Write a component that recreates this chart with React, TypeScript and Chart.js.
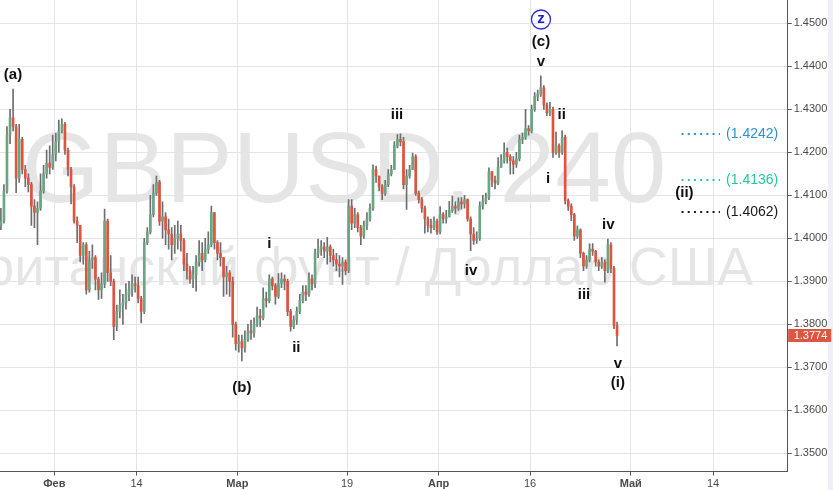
import { useEffect, useRef } from 'react';
import { Chart, registerables } from 'chart.js';

Chart.register(...registerables);

// 8h candles of GBPUSD, first one on Jan 24 (trading day -6 relative to Feb 1)
const FIRST_DAY = -6;
const BARS_PER_DAY = 3;
const FIRST_OPEN = 1.4030;

const CLOSES = [
  1.4040, 1.4110, 1.4240, 1.4280, 1.4260, 1.4140, 1.4230, 1.4160, 1.4140, 1.4125,
  1.4075, 1.4060, 1.4070, 1.4110, 1.4150, 1.4175, 1.4165, 1.4195, 1.4225, 1.4250,
  1.4265, 1.4205, 1.4160, 1.4120, 1.4040, 1.4030, 1.3960, 1.3985, 1.3880, 1.3950,
  1.3955, 1.3905, 1.3880, 1.3895, 1.4040, 1.3920, 1.3900, 1.3795, 1.3830, 1.3845,
  1.3850, 1.3870, 1.3880, 1.3895, 1.3890, 1.3860, 1.3830, 1.3990, 1.4015, 1.4055,
  1.4105, 1.4130, 1.4040, 1.4050, 1.4020, 1.4010, 1.3985, 1.4000, 1.4010, 1.3995,
  1.3940, 1.3925, 1.3905, 1.3915, 1.3945, 1.3965, 1.3950, 1.3975, 1.3985, 1.4060,
  1.3990, 1.3965, 1.3955, 1.3910, 1.3920, 1.3900, 1.3800, 1.3755, 1.3760, 1.3745,
  1.3765, 1.3785, 1.3780, 1.3800, 1.3820, 1.3815, 1.3860, 1.3855, 1.3905, 1.3890,
  1.3865, 1.3895, 1.3905, 1.3900, 1.3830, 1.3795, 1.3810, 1.3830, 1.3855, 1.3875,
  1.3870, 1.3905, 1.3895, 1.3965, 1.3975, 1.3980, 1.3970, 1.3980, 1.3960, 1.3950,
  1.3940, 1.3935, 1.3945, 1.3925, 1.4075, 1.4035, 1.4055, 1.4025, 1.4005, 1.4030,
  1.4045, 1.4070, 1.4160, 1.4145, 1.4120, 1.4105, 1.4125, 1.4150, 1.4160, 1.4215,
  1.4230, 1.4225, 1.4125, 1.4145, 1.4160, 1.4190, 1.4105, 1.4090, 1.4070, 1.4045,
  1.4030, 1.4025, 1.4040, 1.4015, 1.4055, 1.4045, 1.4050, 1.4065, 1.4075, 1.4070,
  1.4085, 1.4080, 1.4090, 1.4045, 1.4010, 1.3995, 1.4000, 1.4075, 1.4085, 1.4095,
  1.4155, 1.4135, 1.4128, 1.4165, 1.4180, 1.4200, 1.4190, 1.4180, 1.4172, 1.4185,
  1.4230, 1.4235, 1.4255, 1.4250, 1.4300, 1.4330, 1.4335, 1.4350, 1.4310, 1.4292,
  1.4300, 1.4200, 1.4215, 1.4200, 1.4235, 1.4088, 1.4075, 1.4055, 1.4005, 1.4020,
  1.3965, 1.3935, 1.3950, 1.3975, 1.3970, 1.3945, 1.3935, 1.3945, 1.3925, 1.3985,
  1.3930, 1.3797, 1.3774,
];

const HIGHS = [
  1.4070, 1.4125, 1.4260, 1.4300, 1.4347, 1.4265, 1.4265, 1.4235, 1.4170, 1.4150,
  1.4130, 1.4090, 1.4085, 1.4150, 1.4170, 1.4205, 1.4215, 1.4240, 1.4245, 1.4275,
  1.4278, 1.4270, 1.4210, 1.4165, 1.4125, 1.4050, 1.4030, 1.3990, 1.3990, 1.3970,
  1.3985, 1.3960, 1.3910, 1.3920, 1.4068, 1.4045, 1.3960, 1.3905, 1.3845, 1.3880,
  1.3870, 1.3895, 1.3900, 1.3915, 1.3910, 1.3910, 1.3865, 1.4000, 1.4025, 1.4100,
  1.4125, 1.4145, 1.4135, 1.4085, 1.4060, 1.4045, 1.4025, 1.4030, 1.4040, 1.4030,
  1.4000, 1.3965, 1.3935, 1.3935, 1.3960, 1.3995, 1.3990, 1.4000, 1.4015, 1.4075,
  1.4060, 1.3995, 1.3990, 1.3955, 1.3935, 1.3925, 1.3910, 1.3805, 1.3775, 1.3775,
  1.3785, 1.3800, 1.3810, 1.3815, 1.3840, 1.3835, 1.3885, 1.3875, 1.3915, 1.3910,
  1.3895, 1.3918, 1.3920, 1.3915, 1.3905, 1.3835, 1.3820, 1.3840, 1.3870, 1.3890,
  1.3890, 1.3920, 1.3915, 1.3975, 1.3998, 1.3995, 1.3990, 1.4002, 1.3985, 1.3975,
  1.3965, 1.3960, 1.3955, 1.3950, 1.4090, 1.4090, 1.4070, 1.4060, 1.4030, 1.4040,
  1.4060, 1.4080, 1.4171, 1.4168, 1.4145, 1.4125, 1.4135, 1.4160, 1.4170, 1.4225,
  1.4241, 1.4243, 1.4235, 1.4160, 1.4170, 1.4198, 1.4195, 1.4110, 1.4095, 1.4075,
  1.4050, 1.4045, 1.4050, 1.4045, 1.4074, 1.4060, 1.4065, 1.4086, 1.4098, 1.4085,
  1.4094, 1.4095, 1.4100, 1.4092, 1.4050, 1.4025, 1.4015, 1.4085, 1.4100, 1.4105,
  1.4164, 1.4155, 1.4145, 1.4188, 1.4195, 1.4222, 1.4210, 1.4195, 1.4190, 1.4200,
  1.4240, 1.4245, 1.4300, 1.4262, 1.4310, 1.4339, 1.4345, 1.4378, 1.4355, 1.4315,
  1.4316, 1.4305, 1.4247, 1.4220, 1.4250, 1.4240, 1.4092, 1.4080, 1.4058, 1.4029,
  1.4022, 1.3968, 1.3960, 1.3987, 1.3988, 1.3972, 1.3950, 1.3955, 1.3950, 1.3998,
  1.3990, 1.3935, 1.3805,
];

const LOWS = [
  1.4020, 1.4035, 1.4105, 1.4220, 1.4250, 1.4106, 1.4130, 1.4150, 1.4120, 1.4108,
  1.4030, 1.4025, 1.3985, 1.4065, 1.4105, 1.4140, 1.4150, 1.4160, 1.4180, 1.4200,
  1.4245, 1.4195, 1.4145, 1.4080, 1.4035, 1.3990, 1.3945, 1.3940, 1.3870, 1.3875,
  1.3930, 1.3880, 1.3858, 1.3860, 1.3885, 1.3900, 1.3890, 1.3764, 1.3785, 1.3815,
  1.3800, 1.3835, 1.3855, 1.3865, 1.3875, 1.3850, 1.3803, 1.3825, 1.3985, 1.4010,
  1.4050, 1.4100, 1.4030, 1.4000, 1.3985, 1.3975, 1.3950, 1.3965, 1.3975, 1.3970,
  1.3925, 1.3905, 1.3895, 1.3885, 1.3877, 1.3935, 1.3925, 1.3945, 1.3965, 1.3980,
  1.3975, 1.3950, 1.3935, 1.3865, 1.3870, 1.3865, 1.3770, 1.3740, 1.3735, 1.3715,
  1.3735, 1.3760, 1.3765, 1.3770, 1.3795, 1.3795, 1.3810, 1.3840, 1.3850, 1.3880,
  1.3847, 1.3860, 1.3885, 1.3880, 1.3820, 1.3784, 1.3790, 1.3800, 1.3825, 1.3850,
  1.3855, 1.3865, 1.3880, 1.3885, 1.3955, 1.3960, 1.3955, 1.3940, 1.3945, 1.3935,
  1.3925, 1.3910, 1.3893, 1.3915, 1.3920, 1.4020, 1.4025, 1.4015, 1.3985, 1.4000,
  1.4020, 1.4040, 1.4065, 1.4130, 1.4110, 1.4090, 1.4100, 1.4120, 1.4145, 1.4160,
  1.4210, 1.4215, 1.4115, 1.4067, 1.4140, 1.4160, 1.4100, 1.4082, 1.4060, 1.4012,
  1.4015, 1.4012, 1.4020, 1.4009, 1.4010, 1.4035, 1.4035, 1.4050, 1.4060, 1.4058,
  1.4065, 1.4068, 1.4070, 1.4040, 1.3971, 1.3986, 1.3988, 1.3995, 1.4068, 1.4080,
  1.4090, 1.4120, 1.4115, 1.4125, 1.4165, 1.4175, 1.4175, 1.4149, 1.4150, 1.4165,
  1.4180, 1.4220, 1.4230, 1.4240, 1.4245, 1.4295, 1.4320, 1.4330, 1.4300, 1.4285,
  1.4285, 1.4188, 1.4195, 1.4188, 1.4195, 1.4080, 1.4065, 1.4041, 1.3995, 1.4000,
  1.3955, 1.3925, 1.3930, 1.3945, 1.3960, 1.3935, 1.3925, 1.3930, 1.3898, 1.3920,
  1.3920, 1.3790, 1.3750,
];

// x axis: trading days relative to Feb 1
const TICK_DAYS = [0, 9, 20, 32, 42, 52, 63, 72];
const TICK_LABELS = ['Фев', '14', 'Мар', '19', 'Апр', '16', 'Май', '14'];
const PRICE_TICKS = [1.35, 1.36, 1.37, 1.38, 1.39, 1.40, 1.41, 1.42, 1.43, 1.44, 1.45];
const X_MIN = -5.93;
const X_MAX = 80.15;
const Y_MIN = 1.34577;
const Y_MAX = 1.45542;

// Elliott wave labels (day, price)
const WAVE_TEXTS = ['(a)', '(b)', 'i', 'ii', 'iii', 'iv', '(c)', 'v', 'ii', 'i', 'iv', 'iii', 'v', '(i)', '(ii)'];
const WAVE_DAYS = [-4.51, 20.51, 23.5, 26.45, 37.45, 45.54, 53.19, 53.19, 55.45, 53.97, 60.55, 57.89, 61.59, 61.59, 68.86];
const WAVE_PRICES = [1.43798, 1.36519, 1.39860, 1.37460, 1.42870, 1.39240, 1.44560, 1.44100, 1.42870, 1.41390, 1.40310, 1.38680, 1.37090, 1.36640, 1.41050];
const CIRCLE_TEXT = 'z';
const CIRCLE_DAY = 53.19;
const CIRCLE_PRICE = 1.45089;

// target levels on the right
const TARGET_PRICES = [1.4242, 1.4136, 1.4062];
const TARGET_TEXTS = ['(1.4242)', '(1.4136)', '(1.4062)'];
const TARGET_COLORS = ['#2a93d5', '#27c79b', '#1a1a1a'];
const TARGET_DAY_START = 68.55;
const TARGET_DAY_END = 72.75;
const TARGET_TEXT_DAY = 73.42;

const LAST_PRICE = 1.3774;

const UP = '#6ba583';
const DOWN = '#e0533d';
const WICK = '#6e6e70';
const FONT = '"Liberation Sans", Arial, sans-serif';

const overlayPlugin = {
  id: 'overlay',
  beforeDraw(chart: any) {
    const { ctx, chartArea } = chart;
    ctx.save();
    ctx.fillStyle = '#ffffff';
    ctx.fillRect(0, 0, chart.width, chart.height);
    ctx.beginPath();
    ctx.rect(chartArea.left, chartArea.top, chartArea.right - chartArea.left, chartArea.bottom - chartArea.top);
    ctx.clip();
    ctx.fillStyle = 'rgba(0,0,0,0.1)';
    ctx.textAlign = 'center';
    ctx.textBaseline = 'alphabetic';
    ctx.font = `100px ${FONT}`;
    ctx.fillText('GBPUSD, 240', 344, 202);
    ctx.font = `54px ${FONT}`;
    ctx.fillText('Британский фунт / Доллар США', 351, 285);
    ctx.restore();
  },
  afterDatasetsDraw(chart: any) {
    const { ctx } = chart;
    const xs = chart.scales.x;
    const ys = chart.scales.y;
    ctx.save();
    // target dotted levels
    TARGET_PRICES.forEach((p, k) => {
      const y = Math.round(ys.getPixelForValue(p)) + 0.0;
      ctx.strokeStyle = TARGET_COLORS[k];
      ctx.lineWidth = 2;
      ctx.setLineDash([2, 4.2]);
      ctx.beginPath();
      ctx.moveTo(xs.getPixelForValue(TARGET_DAY_START), y);
      ctx.lineTo(xs.getPixelForValue(TARGET_DAY_END), y);
      ctx.stroke();
      ctx.setLineDash([]);
      ctx.fillStyle = TARGET_COLORS[k];
      ctx.font = `14px ${FONT}`;
      ctx.textAlign = 'left';
      ctx.textBaseline = 'middle';
      ctx.fillText(TARGET_TEXTS[k], xs.getPixelForValue(TARGET_TEXT_DAY), y + 0.5);
    });
    // wave labels
    ctx.fillStyle = '#111111';
    ctx.font = `bold 15px ${FONT}`;
    ctx.textAlign = 'center';
    ctx.textBaseline = 'middle';
    WAVE_TEXTS.forEach((t, k) => {
      ctx.fillText(t, xs.getPixelForValue(WAVE_DAYS[k]), ys.getPixelForValue(WAVE_PRICES[k]));
    });
    // circled z
    const cx = xs.getPixelForValue(CIRCLE_DAY);
    const cy = ys.getPixelForValue(CIRCLE_PRICE);
    ctx.strokeStyle = '#2b2bd6';
    ctx.lineWidth = 1.3;
    ctx.beginPath();
    ctx.arc(cx, cy, 9.5, 0, Math.PI * 2);
    ctx.stroke();
    ctx.fillStyle = '#1e1ec8';
    ctx.font = `bold 15px ${FONT}`;
    ctx.fillText(CIRCLE_TEXT, cx, cy - 1);
    ctx.restore();
  },
  afterDraw(chart: any) {
    const { ctx, chartArea } = chart;
    const ys = chart.scales.y;
    ctx.save();
    ctx.fillStyle = '#edf0f4';
    ctx.fillRect(828, 0, chart.width - 828, chart.height);
    const y = ys.getPixelForValue(LAST_PRICE);
    ctx.fillStyle = '#dc5640';
    ctx.fillRect(chartArea.right + 0.5, y - 6.5, 43, 13);
    ctx.fillStyle = '#ffffff';
    ctx.font = `11px ${FONT}`;
    ctx.textAlign = 'left';
    ctx.textBaseline = 'middle';
    ctx.fillText(LAST_PRICE.toFixed(4), chartArea.right + 6, y + 0.5);
    ctx.restore();
  },
};

export default function App() {
  const canvasRef = useRef<HTMLCanvasElement | null>(null);

  useEffect(() => {
    const canvas = canvasRef.current;
    if (!canvas) return;
    const opens = [FIRST_OPEN, ...CLOSES.slice(0, -1)];
    const xOf = (i: number) => FIRST_DAY + (i + 0.5) / BARS_PER_DAY;
    const wickData = CLOSES.map((_, i) => ({ x: xOf(i), y: [LOWS[i], HIGHS[i]] }));
    const bodyData = CLOSES.map((c, i) => ({ x: xOf(i), y: [opens[i], c] }));
    const bodyColors = CLOSES.map((c, i) => (c >= opens[i] ? UP : DOWN));

    const chart = new Chart(canvas, {
      type: 'bar',
      data: {
        datasets: [
          {
            data: wickData as any,
            backgroundColor: WICK,
            barThickness: 1,
            grouped: false,
            order: 1,
            borderWidth: 0,
          } as any,
          {
            data: bodyData as any,
            backgroundColor: bodyColors,
            barThickness: 2,
            grouped: false,
            order: 0,
            borderWidth: 0,
          } as any,
        ],
      },
      options: {
        animation: false,
        responsive: false,
        devicePixelRatio: 1,
        layout: { padding: 0, autoPadding: false } as any,
        plugins: { legend: { display: false }, tooltip: { enabled: false } },
        scales: {
          x: {
            type: 'linear',
            min: X_MIN,
            max: X_MAX,
            offset: false,
            afterBuildTicks: (a: any) => {
              a.ticks = TICK_DAYS.map((v) => ({ value: v }));
            },
            afterFit: (a: any) => {
              a.height = 18.5;
              a.paddingLeft = 0;
              a.paddingRight = 0;
            },
            ticks: {
              autoSkip: false,
              maxRotation: 0,
              minRotation: 0,
              padding: 2,
              color: '#4a4a4a',
              font: (c: any) => ({
                size: 11,
                family: FONT,
                weight: isNaN(Number(TICK_LABELS[c.index])) ? 'bold' : 'normal',
              }),
              callback: (_v: any, i: number) => TICK_LABELS[i],
            },
            grid: { color: '#e4e4e4', tickLength: 4, tickColor: '#555555', lineWidth: 1, offset: false },
            border: { color: '#555555', width: 1 },
          } as any,
          y: {
            type: 'linear',
            position: 'right',
            min: Y_MIN,
            max: Y_MAX,
            afterBuildTicks: (a: any) => {
              a.ticks = PRICE_TICKS.map((v) => ({ value: v }));
            },
            afterFit: (a: any) => {
              a.width = 45.3;
              a.paddingTop = 0;
              a.paddingBottom = 0;
            },
            ticks: {
              padding: 2,
              color: '#4a4a4a',
              font: { size: 11, family: FONT },
              callback: (v: any) => Number(v).toFixed(4),
            },
            grid: { color: '#e4e4e4', tickLength: 4, tickColor: '#555555', lineWidth: 1 },
            border: { color: '#555555', width: 1 },
          } as any,
        },
      },
      plugins: [overlayPlugin],
    });
    return () => chart.destroy();
  }, []);

  return (
    <div style={{ position: 'absolute', left: 0, top: 0, width: 833, height: 490, background: '#fff' }}>
      <canvas ref={canvasRef} width={833} height={490} style={{ display: 'block', width: 833, height: 490 }} />
    </div>
  );
}
